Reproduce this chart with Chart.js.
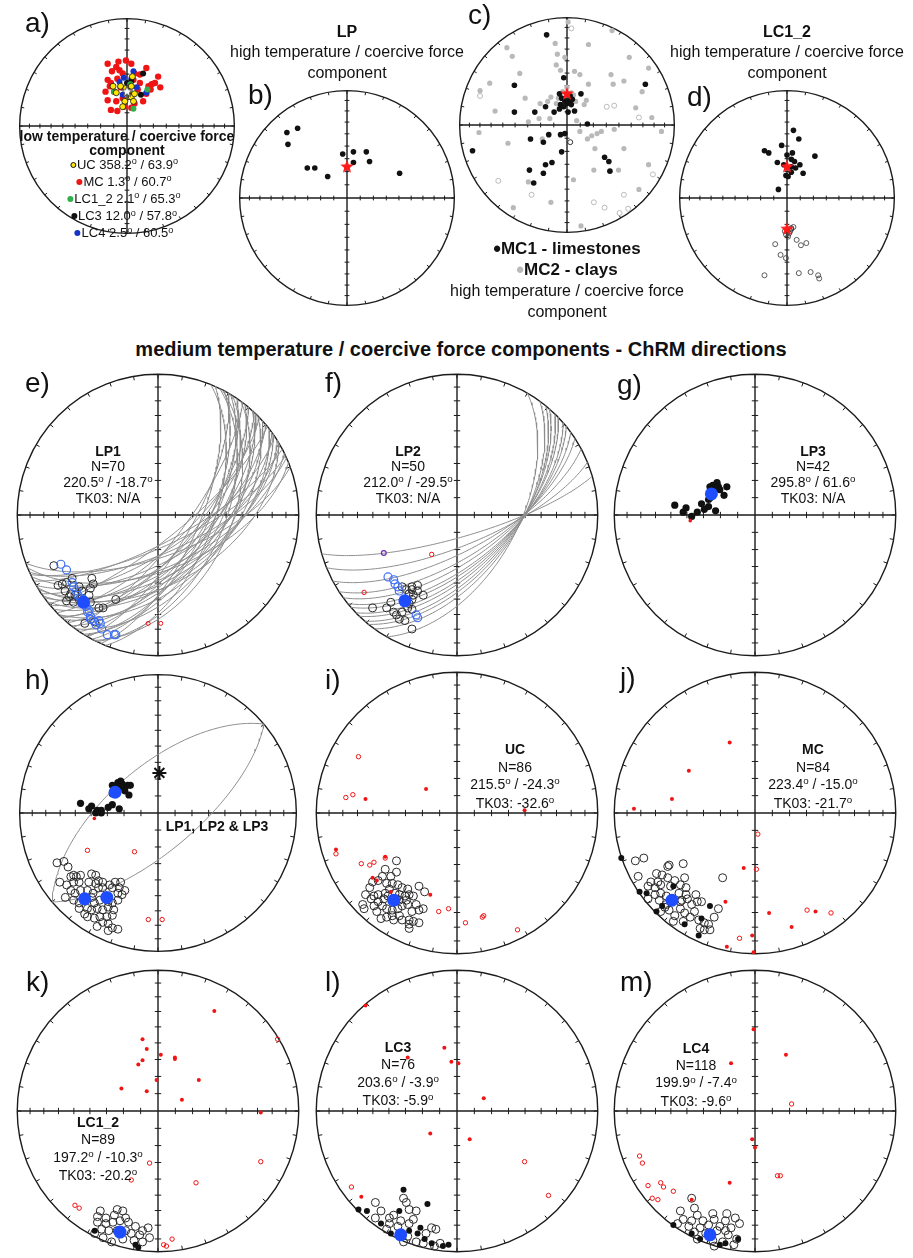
<!DOCTYPE html>
<html>
<head>
<meta charset="utf-8">
<script src="https://cdn.jsdelivr.net/npm/chart.js@4.4.0/dist/chart.umd.min.js"></script>
<style>
body{margin:0;width:913px;height:1258px;overflow:hidden;background:#fff;position:relative;font-family:"Liberation Sans",Arial,sans-serif;color:#111}
canvas{position:absolute}
.lab{position:absolute;font-size:28px;line-height:28px;color:#111}
.txt{position:absolute;transform:translateX(-50%);text-align:center;white-space:nowrap;font-size:14px}
.o{font-size:0.7em;position:relative;top:-0.5em}
.dot{display:inline-block;width:6px;height:6px;border-radius:50%;margin-right:1px;vertical-align:1px;box-sizing:border-box}
</style>
</head>
<body>
<div class="lab" style="left:25px;top:9px">a)</div>
<div class="lab" style="left:248px;top:81px">b)</div>
<div class="lab" style="left:468px;top:1px">c)</div>
<div class="lab" style="left:687px;top:83px">d)</div>
<div class="lab" style="left:25px;top:369px">e)</div>
<div class="lab" style="left:325px;top:369px">f)</div>
<div class="lab" style="left:617px;top:371px">g)</div>
<div class="lab" style="left:25px;top:666px">h)</div>
<div class="lab" style="left:325px;top:666px">i)</div>
<div class="lab" style="left:620px;top:664px">j)</div>
<div class="lab" style="left:26px;top:968px">k)</div>
<div class="lab" style="left:325px;top:968px">l)</div>
<div class="lab" style="left:620px;top:968px">m)</div>

<div id="texts"></div>

<script>
// all positions in net units: x = east, y = north, 1 = primitive circle

// a) low temperature / coercive force component
const aMC = [[-0.18,0.58],[-0.08,0.60],[-0.01,0.61],[0.04,0.58],[0.18,0.54],[0.29,0.46],[0.23,0.39],[0.31,0.36],[0.22,0.34],[-0.10,0.55],[-0.14,0.51],[-0.18,0.43],[-0.15,0.40],[-0.09,0.44],[-0.04,0.49],[0.07,0.49],[0.12,0.40],[0.10,0.34],[0.18,0.30],[0.15,0.23],[-0.18,0.24],[-0.15,0.15],[-0.09,0.14],[-0.03,0.18],[0.04,0.17],[0.07,0.21],[-0.10,0.23],[-0.12,0.32],[-0.20,0.32],[-0.06,0.36],[0.06,0.43],[0.20,0.37],[-0.16,0.37],[0.04,0.29],[-0.04,0.26],[0.26,0.40],[-0.07,0.52],[0.12,0.48]];
const aUC = [[0.05,0.46],[0.04,0.37],[-0.06,0.37],[-0.13,0.37],[-0.10,0.31],[-0.01,0.35],[0.01,0.32],[0.04,0.27],[-0.02,0.23],[0.06,0.23],[0.07,0.30],[-0.04,0.18]];
const aLC12 = [[-0.12,0.32],[0.19,0.34],[0.06,0.16],[0.03,0.39]];
const aLC3 = [[0.15,0.49],[0.13,0.29],[0.04,0.42],[0.00,0.40]];
const aLC4 = [[0.06,0.51],[-0.03,0.45],[-0.07,0.41],[0.18,0.31],[0.00,0.34],[-0.04,0.29],[0.09,0.36],[0.04,0.44]];
const aMean = [[0.0,0.32]];

// b) LP high temperature
const bLP = [[-0.56,0.61],[-0.46,0.65],[-0.55,0.50],[-0.37,0.28],[-0.30,0.28],[-0.18,0.20],[-0.04,0.41],[0.06,0.43],[0.06,0.33],[0.18,0.43],[0.21,0.34],[0.49,0.23]];
const bMean = [[0.0,0.29]];

// c) MC high temperature
const cMC1 = [[-0.19,0.84],[-0.03,0.44],[-0.49,0.37],[0.13,0.29],[0.73,0.38],[-0.49,0.12],[-0.30,0.12],[-0.20,0.17],[-0.12,0.12],[-0.07,0.15],[0.01,0.12],[0.07,0.13],[0.19,0.01],[-0.02,-0.08],[-0.06,-0.09],[-0.17,-0.09],[-0.34,-0.13],[-0.22,-0.16],[-0.05,-0.25],[-0.88,-0.24],[-0.14,-0.35],[-0.20,-0.37],[0.35,-0.30],[0.39,-0.34],[0.40,-0.43],[-0.35,-0.42],[-0.22,-0.45],[-0.31,-0.54],[-0.05,0.25],[-0.02,0.22],[0.02,0.22],[-0.06,0.19],[0.04,0.19],[-0.03,0.17],[0.03,0.27],[-0.07,0.29],[0.0,0.20],[0.05,0.24]];
const cMC1Up = [[0.03,-0.16]];
const cMC2 = [[-0.56,0.72],[-0.09,0.66],[-0.10,0.56],[-0.06,0.51],[-0.02,0.63],[-0.11,0.76],[0.07,0.50],[0.12,0.47],[0.20,0.75],[0.43,0.38],[0.41,0.47],[0.58,0.63],[0.76,0.53],[-0.72,0.39],[-0.81,0.32],[-0.44,0.48],[-0.39,0.25],[-0.26,0.06],[-0.16,0.06],[-0.25,0.20],[-0.36,0.03],[0.12,-0.06],[0.23,-0.10],[0.28,-0.08],[0.32,-0.06],[0.19,-0.13],[-0.55,-0.17],[0.06,-0.51],[0.13,-0.94],[0.25,-0.42],[0.48,-0.42],[0.67,-0.60],[0.76,-0.37],[0.88,-0.06],[0.79,0.07],[0.64,0.16],[0.16,0.19],[0.09,0.04],[0.18,0.23],[-0.15,0.26],[-0.18,0.22],[0.20,0.38],[-0.36,-0.53],[-0.50,-0.77],[0.70,0.31],[0.01,0.96],[0.42,0.88],[-0.51,0.64],[0.53,0.41],[-0.23,-0.13],[0.26,-0.22],[0.44,-0.04],[-0.67,0.13],[-0.82,-0.07],[0.53,-0.22],[-0.15,-0.72],[-0.04,0.31],[0.04,0.30],[-0.08,0.25],[0.06,0.28],[0.0,0.35],[0.08,0.22],[-0.10,0.20]];
const cMC2Up = [[-0.81,0.27],[-0.64,-0.52],[-0.33,-0.65],[0.25,-0.72],[0.35,-0.77],[0.49,-0.82],[0.53,-0.65],[0.57,-0.78],[0.80,-0.46],[0.67,0.07],[0.37,0.17],[0.04,0.90],[0.44,0.18]];
const cMean = [[0.0,0.29]];

// d) LC1_2 high temperature
const dDown = [[0.06,0.63],[0.11,0.55],[-0.05,0.49],[-0.21,0.44],[-0.17,0.42],[0.05,0.42],[0.0,0.40],[0.26,0.39],[-0.09,0.33],[0.04,0.36],[0.07,0.34],[0.12,0.31],[0.08,0.28],[0.15,0.23],[0.04,0.24],[-0.01,0.21],[0.01,0.20],[-0.08,0.08],[0.04,0.29],[-0.03,0.31]];
const dUp = [[0.04,-0.28],[0.03,-0.31],[0.06,-0.27],[0.09,-0.39],[0.13,-0.44],[0.18,-0.42],[-0.11,-0.43],[-0.06,-0.53],[-0.01,-0.56],[0.01,-0.36],[-0.01,-0.34],[0.02,-0.33],[-0.21,-0.72],[0.11,-0.70],[0.22,-0.69],[0.29,-0.72],[0.30,-0.75],[-0.02,-0.31],[0.04,-0.29]];
const dMean = [[0.0,0.29],[0.0,-0.29]];

// e) LP1 - great circles as [dip direction, dip]
const eGC = [[112,58],[114,66],[116,52],[118,62],[120,70],[122,56],[124,64],[126,50],[128,60],[130,68],[132,55],[134,62],[136,72],[138,58],[140,65],[142,52],[144,60],[146,70],[148,56],[150,64],[152,74],[154,60],[156,68],[158,58],[160,66],[117,48],[127,74],[135,50],[141,76],[149,50],[155,72],[121,60],[133,67],[145,54]];
const eUp = [[-0.74,-0.36],[-0.71,-0.50],[-0.68,-0.49],[-0.65,-0.48],[-0.61,-0.45],[-0.47,-0.45],[-0.46,-0.49],[-0.56,-0.51],[-0.66,-0.54],[-0.62,-0.56],[-0.63,-0.58],[-0.59,-0.57],[-0.54,-0.54],[-0.49,-0.57],[-0.48,-0.52],[-0.65,-0.61],[-0.60,-0.62],[-0.52,-0.63],[-0.48,-0.62],[-0.42,-0.66],[-0.39,-0.66],[-0.30,-0.60],[-0.52,-0.77],[-0.45,-0.76],[-0.56,-0.60]];
const eGCpts = [[-0.69,-0.35],[-0.65,-0.39],[-0.61,-0.48],[-0.60,-0.51],[-0.58,-0.54],[-0.57,-0.57],[-0.53,-0.60],[-0.49,-0.68],[-0.48,-0.74],[-0.46,-0.75],[-0.42,-0.75],[-0.41,-0.77],[-0.40,-0.81],[-0.36,-0.85],[-0.31,-0.85],[-0.30,-0.85],[-0.44,-0.78],[-0.55,-0.59],[-0.51,-0.65],[-0.48,-0.72],[-0.50,-0.69]];
const eMean = [[-0.53,-0.62]];
const eRedUp = [[-0.07,-0.77],[0.02,-0.77]];

// f) LP2
const fGC = [[120,55],[126,56],[129,57],[131,58],[134,59],[136,60],[139,61],[141,62],[144,64],[147,66],[152,69],[158,72],[164,77]];
const fUp = [[-0.39,-0.51],[-0.36,-0.53],[-0.32,-0.51],[-0.28,-0.50],[-0.32,-0.53],[-0.28,-0.54],[-0.34,-0.56],[-0.31,-0.57],[-0.24,-0.57],[-0.32,-0.60],[-0.36,-0.61],[-0.34,-0.63],[-0.35,-0.66],[-0.39,-0.69],[-0.45,-0.69],[-0.43,-0.71],[-0.41,-0.74],[-0.37,-0.75],[-0.50,-0.66],[-0.60,-0.66],[-0.32,-0.81],[-0.47,-0.62],[-0.32,-0.67]];
const fGCpts = [[-0.49,-0.44],[-0.45,-0.46],[-0.44,-0.49],[-0.42,-0.51],[-0.41,-0.54],[-0.29,-0.71],[-0.28,-0.73]];
const fMean = [[-0.37,-0.61]];
const fRedUp = [[-0.18,-0.28],[-0.66,-0.55]];
const fPurple = [[-0.52,-0.27]];

// g) LP3
const gDown = [[-0.32,0.20],[-0.30,0.21],[-0.27,0.22],[-0.26,0.20],[-0.28,0.19],[-0.25,0.18],[-0.31,0.17],[-0.27,0.23],[-0.20,0.20],[-0.22,0.14],[-0.32,0.12],[-0.57,0.07],[-0.49,0.05],[-0.51,0.02],[-0.45,-0.01],[-0.41,0.02],[-0.38,0.08],[-0.36,0.04],[-0.33,0.06],[-0.28,0.03],[-0.33,0.11]];
const gMean = [[-0.31,0.15]];
const gRed = [[-0.46,-0.04]];

// h) LP1, LP2 & LP3
const hGC = [[320,62],[140,68]];
const hDown = [[-0.33,0.20],[-0.29,0.22],[-0.27,0.23],[-0.26,0.21],[-0.28,0.19],[-0.25,0.19],[-0.31,0.17],[-0.22,0.20],[-0.20,0.20],[-0.24,0.16],[-0.21,0.13],[-0.33,0.14],[-0.56,0.07],[-0.48,0.05],[-0.50,0.03],[-0.44,0.02],[-0.41,0.02],[-0.36,0.04],[-0.33,0.06],[-0.28,0.03],[-0.41,0.00],[-0.45,0.00]];
const hUp = [[-0.73,-0.36],[-0.68,-0.35],[-0.65,-0.39],[-0.61,-0.45],[-0.59,-0.46],[-0.56,-0.45],[-0.48,-0.44],[-0.45,-0.45],[-0.43,-0.49],[-0.40,-0.50],[-0.35,-0.52],[-0.31,-0.50],[-0.27,-0.50],[-0.24,-0.56],[-0.71,-0.50],[-0.66,-0.52],[-0.61,-0.50],[-0.57,-0.50],[-0.63,-0.56],[-0.60,-0.58],[-0.56,-0.56],[-0.51,-0.56],[-0.47,-0.58],[-0.43,-0.54],[-0.40,-0.54],[-0.33,-0.54],[-0.29,-0.58],[-0.26,-0.59],[-0.67,-0.61],[-0.61,-0.63],[-0.57,-0.65],[-0.48,-0.61],[-0.46,-0.65],[-0.42,-0.63],[-0.36,-0.64],[-0.33,-0.65],[-0.29,-0.63],[-0.51,-0.69],[-0.48,-0.70],[-0.44,-0.69],[-0.40,-0.70],[-0.36,-0.68],[-0.32,-0.70],[-0.51,-0.75],[-0.46,-0.76],[-0.42,-0.75],[-0.37,-0.75],[-0.33,-0.74],[-0.40,-0.79],[-0.36,-0.80],[-0.33,-0.83],[-0.29,-0.84],[-0.36,-0.85],[-0.44,-0.82],[-0.57,-0.69],[-0.53,-0.73],[-0.28,-0.54],[-0.63,-0.46],[-0.45,-0.51],[-0.50,-0.50]];
const hMean = [[-0.31,0.15],[-0.53,-0.62],[-0.37,-0.61]];
const hRedUp = [[-0.51,-0.27],[-0.17,-0.28],[-0.07,-0.77],[0.03,-0.77]];
const hRedDown = [[-0.46,-0.04]];
const hPole = [[0.01,0.29]];

// i) UC
const iUp = [[-0.43,-0.34],[-0.43,-0.42],[-0.51,-0.40],[-0.47,-0.45],[-0.53,-0.45],[-0.60,-0.49],[-0.56,-0.48],[-0.50,-0.50],[-0.46,-0.50],[-0.42,-0.51],[-0.39,-0.53],[-0.35,-0.54],[-0.27,-0.52],[-0.23,-0.56],[-0.65,-0.58],[-0.59,-0.59],[-0.56,-0.58],[-0.51,-0.57],[-0.48,-0.54],[-0.44,-0.57],[-0.41,-0.58],[-0.37,-0.59],[-0.34,-0.58],[-0.31,-0.59],[-0.67,-0.65],[-0.66,-0.68],[-0.57,-0.70],[-0.53,-0.66],[-0.50,-0.68],[-0.46,-0.69],[-0.42,-0.68],[-0.39,-0.66],[-0.35,-0.65],[-0.29,-0.65],[-0.27,-0.69],[-0.24,-0.68],[-0.54,-0.75],[-0.50,-0.74],[-0.45,-0.76],[-0.41,-0.73],[-0.39,-0.76],[-0.34,-0.76],[-0.34,-0.79],[-0.31,-0.77],[-0.27,-0.78],[-0.34,-0.82],[-0.56,-0.63],[-0.52,-0.61],[-0.41,-0.62],[-0.36,-0.62],[-0.61,-0.61],[-0.49,-0.59],[-0.43,-0.61],[-0.32,-0.70],[-0.46,-0.73],[-0.59,-0.66],[-0.62,-0.53]];
const iMean = [[-0.45,-0.62]];
const iRedDown = [[-0.65,0.10],[-0.22,0.17],[0.48,0.02],[-0.86,-0.26],[-0.51,-0.31],[-0.60,-0.46],[-0.57,-0.48],[-0.47,-0.56],[-0.19,-0.58]];
const iRedUp = [[-0.70,0.40],[-0.79,0.11],[-0.74,0.13],[-0.86,-0.29],[-0.68,-0.36],[-0.62,-0.37],[-0.59,-0.35],[-0.51,-0.32],[-0.13,-0.70],[-0.06,-0.68],[0.06,-0.78],[0.18,-0.74],[0.19,-0.73],[0.43,-0.83]];

// j) MC
const jUp = [[-0.85,-0.34],[-0.79,-0.32],[-0.61,-0.37],[-0.62,-0.38],[-0.51,-0.36],[-0.83,-0.45],[-0.70,-0.43],[-0.66,-0.44],[-0.74,-0.49],[-0.69,-0.49],[-0.62,-0.46],[-0.57,-0.48],[-0.50,-0.46],[-0.23,-0.46],[-0.76,-0.52],[-0.71,-0.53],[-0.67,-0.51],[-0.60,-0.52],[-0.53,-0.51],[-0.49,-0.53],[-0.71,-0.58],[-0.67,-0.57],[-0.63,-0.59],[-0.54,-0.57],[-0.49,-0.58],[-0.42,-0.58],[-0.76,-0.61],[-0.68,-0.62],[-0.63,-0.65],[-0.53,-0.63],[-0.45,-0.65],[-0.41,-0.63],[-0.38,-0.63],[-0.67,-0.70],[-0.61,-0.69],[-0.53,-0.68],[-0.50,-0.71],[-0.43,-0.70],[-0.26,-0.68],[-0.58,-0.77],[-0.51,-0.77],[-0.46,-0.74],[-0.40,-0.76],[-0.36,-0.78],[-0.33,-0.79],[-0.39,-0.82],[-0.36,-0.83],[-0.32,-0.83],[-0.29,-0.74],[-0.57,-0.73],[-0.64,-0.67],[-0.48,-0.61],[-0.52,-0.62]];
const jDown = [[-0.95,-0.32],[-0.82,-0.56],[-0.77,-0.57],[-0.70,-0.70],[-0.66,-0.66],[-0.50,-0.79],[-0.38,-0.75],[-0.32,-0.66],[-0.58,-0.52],[-0.40,-0.87]];
const jMean = [[-0.59,-0.62]];
const jRedDown = [[-0.18,0.50],[-0.47,0.30],[-0.59,0.10],[-0.86,0.03],[-0.08,-0.39],[-0.21,-0.63],[0.10,-0.71],[0.43,-0.70],[0.26,-0.81],[-0.02,-0.87],[-0.20,-0.95],[-0.01,-0.99]];
const jRedUp = [[0.02,-0.15],[0.01,-0.40],[0.37,-0.69],[0.54,-0.71],[-0.11,-0.89]];

// k) LC1_2
const kUp = [[-0.41,-0.71],[-0.29,-0.70],[-0.25,-0.71],[-0.43,-0.75],[-0.37,-0.76],[-0.31,-0.74],[-0.23,-0.76],[-0.43,-0.79],[-0.37,-0.80],[-0.32,-0.79],[-0.27,-0.78],[-0.21,-0.79],[-0.16,-0.82],[-0.11,-0.85],[-0.07,-0.83],[-0.40,-0.84],[-0.35,-0.85],[-0.29,-0.85],[-0.23,-0.85],[-0.19,-0.87],[-0.13,-0.88],[-0.06,-0.90],[-0.39,-0.90],[-0.33,-0.93],[-0.25,-0.91],[-0.17,-0.92],[-0.11,-0.93],[-0.45,-0.87]];
const kDown = [[-0.45,-0.85],[-0.16,-0.95],[-0.14,-0.97]];
const kMean = [[-0.27,-0.86]];
const kRedDown = [[0.40,0.71],[-0.11,0.51],[-0.08,0.44],[-0.11,0.36],[-0.14,0.33],[0.02,0.40],[0.12,0.38],[0.12,0.37],[-0.01,0.22],[0.29,0.22],[-0.26,0.16],[-0.08,0.14],[0.17,0.08],[0.73,-0.01]];
const kRedUp = [[0.85,0.51],[-0.06,-0.37],[0.73,-0.36],[-0.19,-0.49],[0.27,-0.51],[-0.59,-0.67],[-0.56,-0.69],[0.10,-0.91],[0.04,-0.95],[0.06,-0.96]];

// l) LC3
const lUp = [[-0.58,-0.65],[-0.38,-0.62],[-0.36,-0.65],[-0.54,-0.71],[-0.45,-0.74],[-0.34,-0.70],[-0.29,-0.71],[-0.40,-0.78],[-0.31,-0.77],[-0.18,-0.83],[-0.15,-0.84],[-0.48,-0.76],[-0.42,-0.82],[-0.35,-0.89],[-0.29,-0.93],[-0.24,-0.94],[-0.16,-0.96],[-0.12,-0.94],[-0.58,-0.76],[-0.50,-0.84],[-0.38,-0.93],[-0.22,-0.87],[-0.34,-0.80],[-0.48,-0.80]];
const lDown = [[-0.70,-0.70],[-0.64,-0.71],[-0.38,-0.56],[-0.21,-0.66],[-0.41,-0.71],[-0.54,-0.80],[-0.34,-0.85],[-0.28,-0.87],[-0.23,-0.91],[-0.18,-0.94],[-0.10,-0.96],[-0.06,-0.95],[-0.47,-0.87],[-0.26,-0.83]];
const lMean = [[-0.40,-0.88]];
const lRedDown = [[-0.65,0.75],[-0.09,0.45],[-0.35,0.38],[-0.04,0.35],[0.01,0.34],[0.19,0.09],[-0.19,-0.16],[0.09,-0.20],[-0.68,-0.61]];
const lRedUp = [[-0.75,-0.54],[0.48,-0.36],[0.65,-0.60]];

// m) LC4
const mUp = [[-0.45,-0.62],[-0.43,-0.69],[-0.53,-0.71],[-0.41,-0.74],[-0.30,-0.73],[-0.20,-0.73],[-0.51,-0.77],[-0.45,-0.78],[-0.37,-0.78],[-0.29,-0.77],[-0.21,-0.78],[-0.14,-0.76],[-0.47,-0.82],[-0.39,-0.83],[-0.33,-0.81],[-0.25,-0.82],[-0.17,-0.83],[-0.11,-0.80],[-0.43,-0.86],[-0.35,-0.87],[-0.27,-0.85],[-0.19,-0.88],[-0.13,-0.91],[-0.41,-0.91],[-0.30,-0.92],[-0.23,-0.93],[-0.15,-0.95],[-0.29,-0.96],[-0.55,-0.80],[-0.21,-0.85]];
const mDown = [[-0.58,-0.81],[-0.45,-0.87],[-0.39,-0.91],[-0.21,-0.94],[-0.12,-0.91],[-0.25,-0.95]];
const mMean = [[-0.32,-0.88]];
const mRedDown = [[-0.01,0.58],[-0.17,0.34],[0.22,0.40],[-0.02,-0.20],[0.0,-0.26],[-0.18,-0.51],[-0.45,-0.63]];
const mRedUp = [[0.26,0.05],[-0.82,-0.32],[-0.80,-0.37],[-0.76,-0.53],[-0.67,-0.51],[-0.65,-0.54],[-0.58,-0.57],[-0.73,-0.62],[-0.69,-0.63],[0.16,-0.46],[0.18,-0.46]];

// ---------------------------------------------------------------
const RED = '#f01414', BLUE = '#1d4dff', BLUE_O = '#3f6ff2', GREY = '#8d8d8d';

function starImg(r, fill, stroke) {
    const s = Math.ceil(r * 2 + 4), c = document.createElement('canvas');
    c.width = s; c.height = s;
    const g = c.getContext('2d');
    g.beginPath();
    for (let i = 0; i < 10; i++) {
        const a = -Math.PI / 2 + i * Math.PI / 5, rr = i % 2 ? r * 0.42 : r;
        g.lineTo(s / 2 + rr * Math.cos(a), s / 2 + rr * Math.sin(a));
    }
    g.closePath();
    g.fillStyle = fill; g.fill();
    if (stroke) { g.strokeStyle = stroke; g.lineWidth = 1; g.stroke(); }
    return c;
}

// half great circle (equal-area, lower hemisphere) from dip direction / dip
function greatCircle(dipDir, dip) {
    const al = dipDir * Math.PI / 180, de = dip * Math.PI / 180;
    const a = [Math.sin(al), -Math.cos(al)];
    const b = [Math.cos(de) * Math.cos(al), Math.cos(de) * Math.sin(al), Math.sin(de)];
    const out = [];
    for (let k = 0; k <= 120; k++) {
        const t = k * Math.PI / 120;
        const n = Math.cos(t) * a[0] + Math.sin(t) * b[0];
        const e = Math.cos(t) * a[1] + Math.sin(t) * b[1];
        const d = Math.sin(t) * b[2];
        const s = Math.sqrt(1 + d);
        out.push({ x: e / s, y: n / s });
    }
    return out;
}

const xy = arr => arr.map(p => ({ x: p[0], y: p[1] }));

function filled(arr, color, r, order, extra) {
    return Object.assign({ data: xy(arr), showLine: false, pointStyle: 'circle', pointRadius: r,
        pointBackgroundColor: color, pointBorderColor: color, pointBorderWidth: 0, order: order }, extra || {});
}
function ring(arr, color, r, order, bw) {
    return { data: xy(arr), showLine: false, pointStyle: 'circle', pointRadius: r,
        pointBackgroundColor: 'rgba(255,255,255,0)', pointBorderColor: color, pointBorderWidth: bw || 1, order: order };
}
function star(arr, img, order) {
    return { data: xy(arr), showLine: false, pointStyle: img, pointRadius: 6, order: order };
}
function circles(list, color) {
    return list.map(g => ({ data: greatCircle(g[0], g[1]), showLine: true, pointRadius: 0,
        borderColor: color, borderWidth: 1, tension: 0, fill: false, order: 30 }));
}

const netPlugin = {
    id: 'net',
    beforeDatasetsDraw(chart, args, opts) {
        const { ctx, scales: { x, y } } = chart;
        const cx = x.getPixelForValue(0), cy = y.getPixelForValue(0);
        const R = x.getPixelForValue(1) - cx, tl = opts.tick;
        ctx.save();
        ctx.strokeStyle = '#1c1c1c';
        ctx.lineWidth = 1.4;
        ctx.beginPath();
        ctx.arc(cx, cy, R, 0, 2 * Math.PI);
        ctx.moveTo(cx - R, cy); ctx.lineTo(cx + R, cy);
        ctx.moveTo(cx, cy - R); ctx.lineTo(cx, cy + R);
        ctx.stroke();
        ctx.lineWidth = 1;
        ctx.beginPath();
        for (let az = 0; az < 360; az += 10) {
            const a = az * Math.PI / 180, sx = Math.sin(a), sy = -Math.cos(a);
            ctx.moveTo(cx + sx * R, cy + sy * R);
            ctx.lineTo(cx + sx * (R - tl), cy + sy * (R - tl));
        }
        for (let inc = 10; inc < 90; inc += 10) {
            const r = R * Math.sqrt(1 - Math.sin(inc * Math.PI / 180)), h = tl * 0.8;
            ctx.moveTo(cx + r, cy - h); ctx.lineTo(cx + r, cy + h);
            ctx.moveTo(cx - r, cy - h); ctx.lineTo(cx - r, cy + h);
            ctx.moveTo(cx - h, cy + r); ctx.lineTo(cx + h, cy + r);
            ctx.moveTo(cx - h, cy - r); ctx.lineTo(cx + h, cy - r);
        }
        ctx.stroke();
        ctx.restore();
    }
};

function makeNet(cx, cy, R, datasets) {
    const pad = 6, S = 2 * R + 2 * pad, lim = 1 + pad / R;
    const cv = document.createElement('canvas');
    cv.width = S; cv.height = S;
    cv.style.left = (cx - S / 2) + 'px'; cv.style.top = (cy - S / 2) + 'px';
    cv.style.width = S + 'px'; cv.style.height = S + 'px';
    document.body.insertBefore(cv, document.body.firstChild);
    new Chart(cv, {
        type: 'scatter',
        data: { datasets: datasets },
        options: {
            responsive: false, animation: false, events: [],
            layout: { padding: 0 },
            scales: {
                x: { type: 'linear', min: -lim, max: lim, display: false },
                y: { type: 'linear', min: -lim, max: lim, display: false }
            },
            plugins: { legend: { display: false }, tooltip: { enabled: false }, net: { tick: R > 130 ? 4 : 3 } }
        },
        plugins: [netPlugin]
    });
}

const redStar = starImg(7, '#ff1a1a', null);
const whiteStar = starImg(6, '#ffffff', '#444');

makeNet(127, 126, 114, [
    filled(aMC, RED, 3.2, 6),
    filled(aLC4, '#1533c8', 3, 5),
    filled(aLC3, '#111', 3, 4),
    filled(aLC12, '#2fb04a', 3, 3),
    filled(aUC, '#ffe600', 3, 2, { pointBorderColor: '#111', pointBorderWidth: 0.8 }),
    star(aMean, whiteStar, 1)
]);
makeNet(347, 198, 114, [
    filled(bLP, '#111', 2.8, 3),
    star(bMean, redStar, 1)
]);
makeNet(567, 125, 114, [
    filled(cMC2, '#b9b9b9', 2.6, 6),
    ring(cMC2Up, '#b3b3b3', 2.5, 7, 0.9),
    filled(cMC1, '#111', 2.8, 4),
    ring(cMC1Up, '#222', 2.5, 5, 0.9),
    star(cMean, redStar, 1)
]);
makeNet(787, 198, 114, [
    filled(dDown, '#111', 2.8, 4),
    ring(dUp, '#333', 2.5, 5, 0.8),
    star(dMean, redStar, 1)
]);

makeNet(158, 515, 147, [
    ...circles(eGC, GREY),
    ring(eUp, '#2a2a2a', 4, 10),
    ring(eGCpts, BLUE_O, 4, 9, 1.2),
    ring(eRedUp, RED, 2, 8),
    filled(eMean, BLUE, 6.5, 1)
]);
makeNet(457, 515, 147, [
    ...circles(fGC, GREY),
    ring(fUp, '#2a2a2a', 4, 10),
    ring(fGCpts, BLUE_O, 4, 9, 1.2),
    ring(fRedUp, RED, 2.2, 8),
    ring(fPurple, '#6a2bb5', 2.4, 8, 1.2),
    filled(fMean, BLUE, 6.5, 1)
]);
makeNet(755, 515, 147, [
    filled(gDown, '#111', 3.6, 5),
    filled(gRed, RED, 1.8, 4),
    filled(gMean, BLUE, 6.5, 1)
]);

makeNet(158, 813, 147, [
    ...circles(hGC, GREY),
    ring(hUp, '#2a2a2a', 4, 10),
    filled(hDown, '#111', 3.6, 6),
    ring(hRedUp, RED, 2.2, 8),
    filled(hRedDown, RED, 1.8, 5),
    { data: xy(hPole), showLine: false, pointStyle: 'star', pointRadius: 7, pointBorderColor: '#111', pointBorderWidth: 2, order: 2 },
    filled(hMean, BLUE, 6.5, 1)
]);
makeNet(457, 813, 147, [
    ring(iUp, '#2a2a2a', 4, 10),
    ring(iRedUp, RED, 2.2, 8),
    filled(iRedDown, RED, 2, 7),
    filled(iMean, BLUE, 6.5, 1)
]);
makeNet(755, 813, 147, [
    ring(jUp, '#2a2a2a', 4, 10),
    filled(jDown, '#111', 3, 9),
    ring(jRedUp, RED, 2.2, 8),
    filled(jRedDown, RED, 2, 7),
    filled(jMean, BLUE, 6.5, 1)
]);

makeNet(158, 1111, 147, [
    ring(kUp, '#2a2a2a', 4, 10),
    filled(kDown, '#111', 3, 9),
    ring(kRedUp, RED, 2.2, 8),
    filled(kRedDown, RED, 2, 7),
    filled(kMean, BLUE, 6.5, 1)
]);
makeNet(457, 1111, 147, [
    ring(lUp, '#2a2a2a', 4, 10),
    filled(lDown, '#111', 3, 9),
    ring(lRedUp, RED, 2.2, 8),
    filled(lRedDown, RED, 2, 7),
    filled(lMean, BLUE, 6.5, 1)
]);
makeNet(755, 1111, 147, [
    ring(mUp, '#2a2a2a', 4, 10),
    filled(mDown, '#111', 3, 9),
    ring(mRedUp, RED, 2.2, 8),
    filled(mRedDown, RED, 2, 7),
    filled(mMean, BLUE, 6.5, 1)
]);

// text blocks
const deg = '<span class="o">o</span>';
const blocks = [
    [127, 128.5, 14, 14, '<b>low temperature / coercive force<br>component</b>'],
    [124, 156.5, 13, 15.2,
        '<span class="dot" style="background:#ffe600;border:1px solid #111"></span>UC 358.2' + deg + ' / 63.9' + deg + '<br>' +
        '<span class="dot" style="background:' + RED + '"></span>MC 1.3' + deg + ' / 60.7' + deg + '<br>' +
        '<span class="dot" style="background:#2fb04a"></span>LC1_2 2.1' + deg + ' / 65.3' + deg + '<br>' +
        '<span class="dot" style="background:#111"></span>LC3 12.0' + deg + ' / 57.8' + deg + '<br>' +
        '<span class="dot" style="background:#1533c8"></span>LC4 2.5' + deg + ' / 60.5' + deg],
    [347, 21.5, 16, 20.5, '<b>LP</b><br>high temperature / coercive force<br>component'],
    [787, 21.5, 16, 20.5, '<b>LC1_2</b><br>high temperature / coercive force<br>component'],
    [567, 237.5, 16, 21, '<b style="font-size:17px"><span style="font-size:22px;vertical-align:-2px">&bull;</span>MC1 - limestones<br><span style="color:#b9b9b9;font-size:22px;vertical-align:-2px">&bull;</span>MC2 - clays</b><br>high temperature / coercive force<br>component'],
    [461, 337, 20, 24, '<b>medium temperature / coercive force components - ChRM directions</b>'],
    [108, 444, 14, 15.3, '<b>LP1</b><br>N=70<br>220.5' + deg + ' / -18.7' + deg + '<br>TK03: N/A'],
    [408, 444, 14, 15.3, '<b>LP2</b><br>N=50<br>212.0' + deg + ' / -29.5' + deg + '<br>TK03: N/A'],
    [813, 444, 14, 15.3, '<b>LP3</b><br>N=42<br>295.8' + deg + ' / 61.6' + deg + '<br>TK03: N/A'],
    [217, 818, 14, 16, '<b>LP1, LP2 &amp; LP3</b>'],
    [515, 741, 14, 17.6, '<b>UC</b><br>N=86<br>215.5' + deg + ' / -24.3' + deg + '<br>TK03: -32.6' + deg],
    [813, 741, 14, 17.5, '<b>MC</b><br>N=84<br>223.4' + deg + ' / -15.0' + deg + '<br>TK03: -21.7' + deg],
    [98, 1114, 14, 17.4, '<b>LC1_2</b><br>N=89<br>197.2' + deg + ' / -10.3' + deg + '<br>TK03: -20.2' + deg],
    [398, 1039, 14, 17.3, '<b>LC3</b><br>N=76<br>203.6' + deg + ' / -3.9' + deg + '<br>TK03: -5.9' + deg],
    [696, 1040, 14, 17.2, '<b>LC4</b><br>N=118<br>199.9' + deg + ' / -7.4' + deg + '<br>TK03: -9.6' + deg]
];
const holder = document.getElementById('texts');
blocks.forEach(b => {
    const d = document.createElement('div');
    d.className = 'txt';
    d.style.left = b[0] + 'px'; d.style.top = b[1] + 'px';
    d.style.fontSize = b[2] + 'px'; d.style.lineHeight = b[3] + 'px';
    d.innerHTML = b[4];
    holder.appendChild(d);
});
</script>
</body>
</html>
